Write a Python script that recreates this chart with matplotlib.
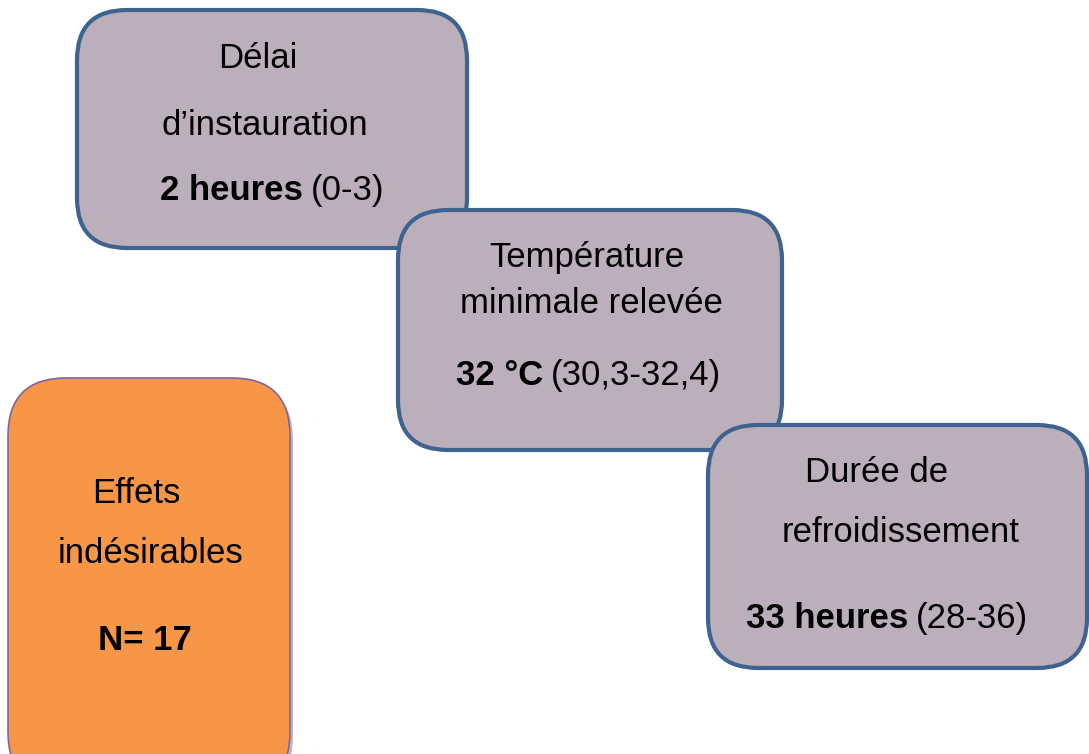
import matplotlib
matplotlib.use("Agg")
import matplotlib.pyplot as plt
from matplotlib.patches import FancyBboxPatch

plt.rcParams["font.family"] = ["Liberation Sans", "DejaVu Sans"]

# ── content ──────────────────────────────────────────────────────────────────
titles = [
    ["Délai", "d’instauration"],
    ["Température", "minimale relevée"],
    ["Durée de", "refroidissement"],
]
values_bold = ["2 heures", "32 °C", "33 heures"]
values_range = ["(0-3)", "(30,3-32,4)", "(28-36)"]

side_title = ["Effets", "indésirables"]
side_value = "N= 17"

# ── colours ──────────────────────────────────────────────────────────────────
C_FILL = "#BCAFBC"
C_EDGE = "#3F6390"
C_ORANGE = "#F79646"
C_ORANGE_EDGE = "#8064A2"

# ── layout (pixel space, y downwards) ───────────────────────────────────────
W, H = 1089, 754
boxes = [(77, 10, 467, 248), (398, 210, 782, 450), (708, 425, 1087, 668)]
title_xy = [[(258, 68), (265, 135)], [(587, 267), (591, 313)], [(877, 482), (901, 542)]]
value_y = [200, 385, 628]
value_split = [303, 543, 908]
FS = 25

fig = plt.figure(figsize=(W / 100, H / 100), dpi=100)
ax = fig.add_axes([0, 0, 1, 1])
ax.set_xlim(0, W)
ax.set_ylim(H, 0)
ax.axis("off")

for i, (x0, y0, x1, y1) in enumerate(boxes):
    ax.add_patch(FancyBboxPatch((x0, y0), x1 - x0, y1 - y0,
                                boxstyle="round,pad=0,rounding_size=50",
                                facecolor=C_FILL, edgecolor=C_EDGE,
                                linewidth=3, zorder=2 + i))
    for txt, (tx, ty) in zip(titles[i], title_xy[i]):
        ax.text(tx, ty, txt, ha="center", va="baseline", fontsize=FS, zorder=10)
    ax.text(value_split[i], value_y[i], values_bold[i], ha="right", va="baseline",
            fontsize=FS, fontweight="bold", zorder=10)
    ax.text(value_split[i] + 8, value_y[i], values_range[i], ha="left",
            va="baseline", fontsize=FS, zorder=10)

# ── side box ────────────────────────────────────────────────────────────────
ox0, oy0, ox1, oy1 = 8, 378, 290, 790
ax.add_patch(FancyBboxPatch((ox0 + 3, oy0 + 4), ox1 - ox0, oy1 - oy0,
                            boxstyle="round,pad=0,rounding_size=58",
                            facecolor="#8a8a8a", edgecolor="none", alpha=0.6,
                            zorder=1))
ax.add_patch(FancyBboxPatch((ox0, oy0), ox1 - ox0, oy1 - oy0,
                            boxstyle="round,pad=0,rounding_size=58",
                            facecolor=C_ORANGE, edgecolor=C_ORANGE_EDGE,
                            linewidth=1.2, zorder=2))
ax.text(136, 503, side_title[0], ha="center", va="baseline", fontsize=FS, zorder=10)
ax.text(150, 563, side_title[1], ha="center", va="baseline", fontsize=FS, zorder=10)
ax.text(145, 650, side_value, ha="center", va="baseline", fontsize=FS,
        fontweight="bold", zorder=10)

fig.savefig("out.png", dpi=100)
